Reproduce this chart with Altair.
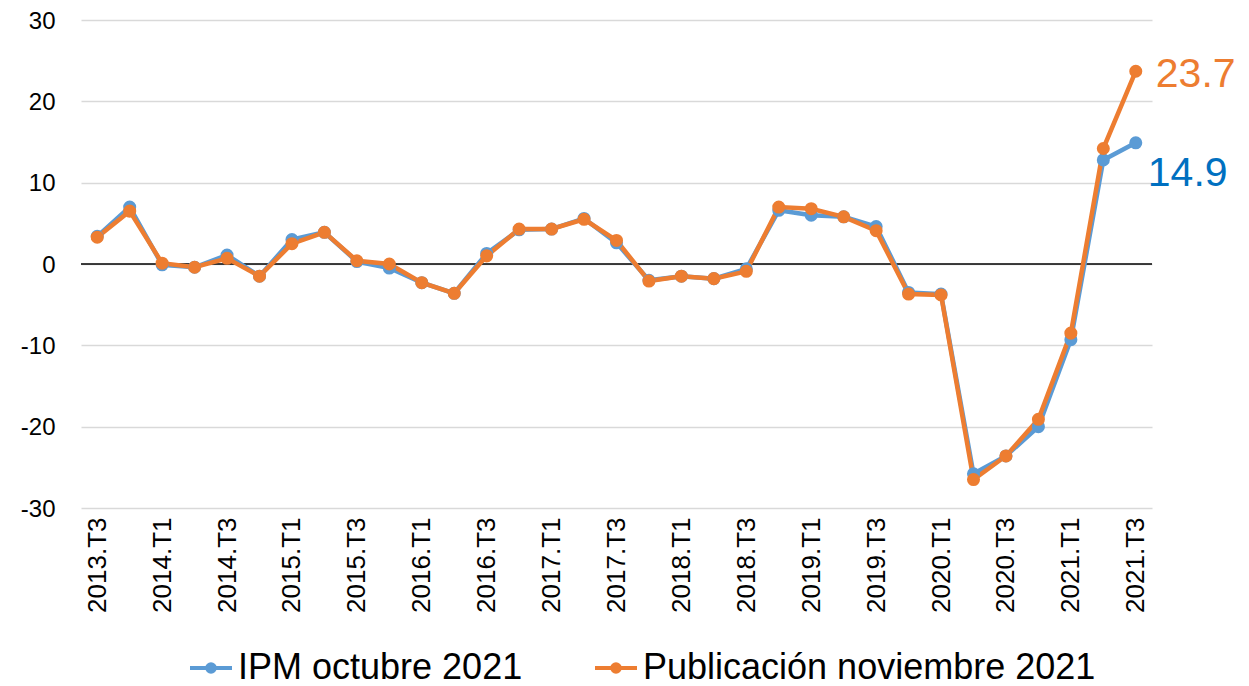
import altair as alt
import pandas as pd

quarters = ["2013.T3", "2013.T4",
            "2014.T1", "2014.T2", "2014.T3", "2014.T4",
            "2015.T1", "2015.T2", "2015.T3", "2015.T4",
            "2016.T1", "2016.T2", "2016.T3", "2016.T4",
            "2017.T1", "2017.T2", "2017.T3", "2017.T4",
            "2018.T1", "2018.T2", "2018.T3", "2018.T4",
            "2019.T1", "2019.T2", "2019.T3", "2019.T4",
            "2020.T1", "2020.T2", "2020.T3", "2020.T4",
            "2021.T1", "2021.T2", "2021.T3"]

ipm_octubre = [3.4, 7.0, -0.1, -0.4, 1.1, -1.5, 3.0, 3.9, 0.3, -0.5,
               -2.3, -3.6, 1.3, 4.2, 4.3, 5.6, 2.6, -2.0, -1.5, -1.8,
               -0.6, 6.6, 6.0, 5.8, 4.6, -3.5, -3.7, -25.8, -23.6, -20.0,
               -9.3, 12.8, 14.9]

publicacion_noviembre = [3.3, 6.5, 0.1, -0.4, 0.7, -1.5, 2.5, 3.9, 0.4, 0.0,
                         -2.3, -3.6, 1.0, 4.3, 4.3, 5.5, 2.9, -2.1, -1.5, -1.8,
                         -0.9, 7.0, 6.8, 5.8, 4.1, -3.7, -3.8, -26.5, -23.6, -19.1,
                         -8.5, 14.2, 23.7]

series_names = ["IPM octubre 2021", "Publicación noviembre 2021"]
series_colors = ["#5B9BD5", "#ED7D31"]
label_colors = ["#0070C0", "#ED7D31"]
x_label_values = quarters[::2]
y_ticks = [-30, -20, -10, 0, 10, 20, 30]

rows = []
for q, a, b in zip(quarters, ipm_octubre, publicacion_noviembre):
    rows.append({"quarter": q, "serie": series_names[0], "valor": a})
    rows.append({"quarter": q, "serie": series_names[1], "valor": b})
df = pd.DataFrame(rows)

last_blue = pd.DataFrame([{"quarter": quarters[-1], "valor": ipm_octubre[-1],
                           "txt": f"{ipm_octubre[-1]:.1f}"}])
last_orange = pd.DataFrame([{"quarter": quarters[-1], "valor": publicacion_noviembre[-1],
                             "txt": f"{publicacion_noviembre[-1]:.1f}"}])

FONT = "Liberation Sans"

x_scale = alt.Scale(type="point", padding=0.5)
x_axis = alt.Axis(values=x_label_values, labelAngle=270, labelAlign="right",
                  labelBaseline="middle", labelFontSize=26, labelFont=FONT,
                  labelColor="#000000", labelPadding=9, ticks=False,
                  domain=False, grid=False, title=None, labelOverlap=False)
y_scale = alt.Scale(domain=[-30, 30], nice=False, zero=False)
y_axis = alt.Axis(values=y_ticks, labelFontSize=24, labelFont=FONT,
                  labelExpr="toString(datum.value)", labelOffset=1,
                  labelColor="#000000", labelPadding=26, ticks=False,
                  domain=False, grid=True, gridColor="#D9D9D9", gridWidth=1.3,
                  title=None)

x_enc = alt.X("quarter:N", sort=quarters, scale=x_scale, axis=x_axis)
y_enc = alt.Y("valor:Q", scale=y_scale, axis=y_axis)

color_enc = alt.Color("serie:N", sort=series_names,
                      scale=alt.Scale(domain=series_names, range=series_colors),
                      legend=alt.Legend(
                          title=None, orient="none", direction="horizontal",
                          legendX=107, legendY=625, padding=0,
                          symbolType="M-1,0L1,0M-0.18,0A0.18,0.18,0,1,1,0.18,0A0.18,0.18,0,1,1,-0.18,0Z",
                          symbolSize=1764, symbolStrokeWidth=4, symbolOpacity=1,
                          labelFontSize=36, labelFont=FONT, labelColor="#000000",
                          labelOffset=4, columnPadding=64, labelLimit=600))

lines = alt.Chart(df).mark_line(strokeWidth=4.5).encode(
    x=x_enc, y=y_enc, color=color_enc,
    order=alt.Order("serie:N"))

zero_rule = alt.Chart(pd.DataFrame({"valor": [0]})).mark_rule(
    color="#000000", strokeWidth=1.5).encode(y=alt.Y("valor:Q", scale=y_scale, axis=y_axis))

points = alt.Chart(df).mark_point(filled=True, size=170, opacity=1).encode(
    x=alt.X("quarter:N", sort=quarters, scale=x_scale, axis=x_axis),
    y=alt.Y("valor:Q", scale=y_scale, axis=y_axis),
    color=color_enc)

lbl_orange = alt.Chart(last_orange).mark_text(
    align="left", baseline="middle", dx=20, dy=4, fontSize=41, font=FONT,
    color=label_colors[1]).encode(
    x=alt.X("quarter:N", sort=quarters, scale=x_scale, axis=x_axis),
    y=alt.Y("valor:Q", scale=y_scale, axis=y_axis), text="txt:N")

lbl_blue = alt.Chart(last_blue).mark_text(
    align="left", baseline="middle", dx=12, dy=31, fontSize=41, font=FONT,
    color=label_colors[0]).encode(
    x=alt.X("quarter:N", sort=quarters, scale=x_scale, axis=x_axis),
    y=alt.Y("valor:Q", scale=y_scale, axis=y_axis), text="txt:N")

chart = alt.layer(zero_rule, lines, points, lbl_orange, lbl_blue).properties(
    width=1071, height=488,
    autosize=alt.AutoSizeParams(type="none"),
    padding={"left": 73, "top": 12, "right": 89, "bottom": 178},
).configure(background="#FFFFFF", view=alt.ViewConfig(stroke=None))

chart.save("out.html", embed_options={"renderer": "svg", "actions": False})
